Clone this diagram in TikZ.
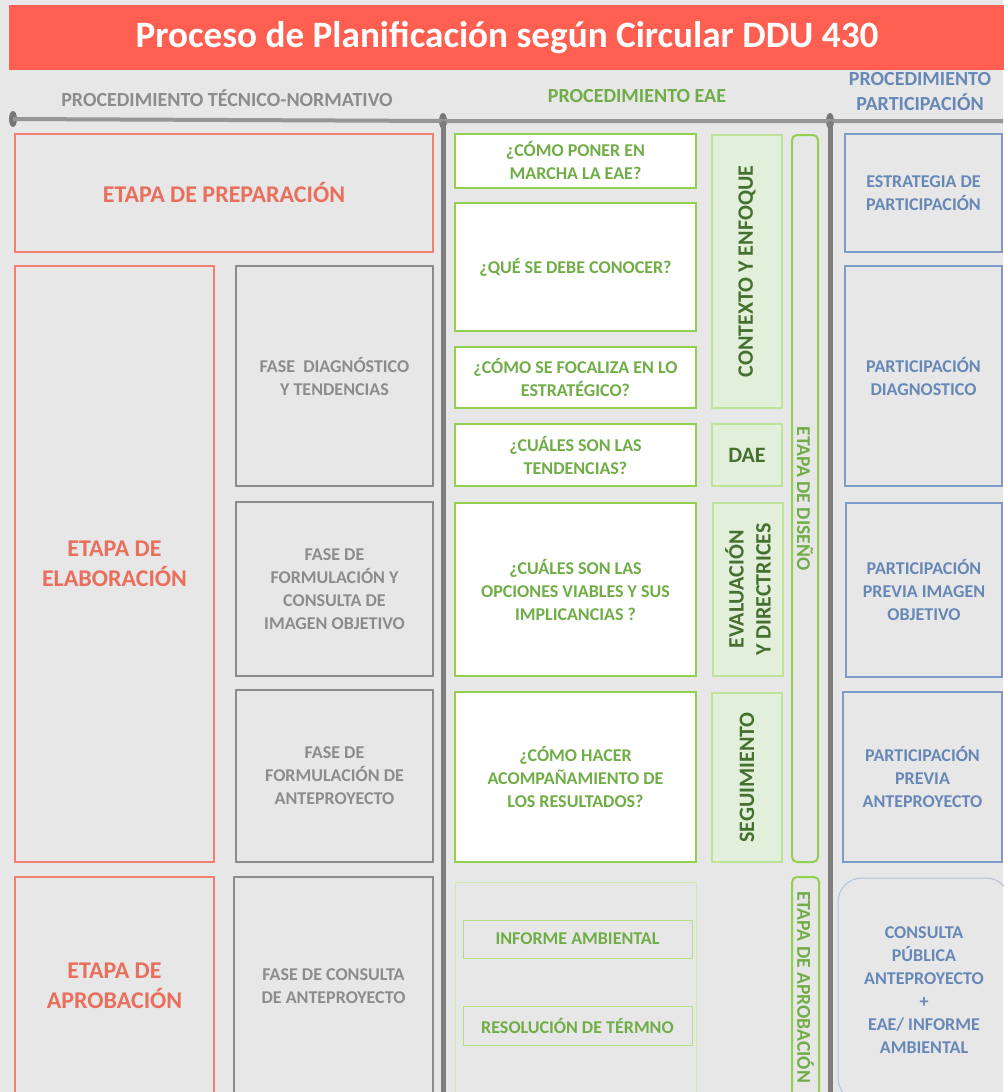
\documentclass[tikz,border=0pt]{standalone}
\usepackage{fontspec}
\setmainfont{Carlito}
\usetikzlibrary{positioning,shapes.geometric}

\definecolor{fondo}{RGB}{231,231,231}
\definecolor{titulo}{RGB}{255,95,80}
\definecolor{salmon}{RGB}{240,128,112}
\definecolor{salmontxt}{RGB}{234,110,92}
\definecolor{gris}{RGB}{140,140,140}
\definecolor{verde}{RGB}{146,208,80}
\definecolor{verdetxt}{RGB}{112,173,71}
\definecolor{verdeclaro}{RGB}{226,239,218}
\definecolor{verdeosc}{RGB}{70,112,48}
\definecolor{azul}{RGB}{124,155,198}
\definecolor{azultxt}{RGB}{103,136,183}
\definecolor{linea}{RGB}{150,150,150}

\begin{document}
\begin{tikzpicture}[%
      x=0.5pt, y=-0.5pt,
      every node/.style={inner sep=0pt, align=center, font=\bfseries},
      sz/.style 2 args={minimum width=#1*0.5pt, minimum height=#2*0.5pt},
      etapa/.style={draw=salmon, line width=0.8pt, text=salmontxt, font=\bfseries\fontsize{12}{15}\selectfont},
      fase/.style={draw=gris, line width=0.8pt, text=gris, font=\bfseries\fontsize{9}{11.5}\selectfont},
      pregunta/.style={draw=verde, fill=white, line width=1pt, text=verdetxt, font=\bfseries\fontsize{9}{11.5}\selectfont},
      tema/.style={draw=verde!60, fill=verdeclaro, line width=0.6pt, text=verdeosc, font=\bfseries\fontsize{11}{13.5}\selectfont},
      stage/.style={draw=verde, rounded corners=2.5pt, line width=1pt, text=verdetxt, font=\bfseries\fontsize{9.8}{12}\selectfont},
      informe/.style={draw=verde!70, line width=0.5pt, text=verdetxt, font=\bfseries\fontsize{9}{11.5}\selectfont},
      particip/.style={draw=azul, line width=0.8pt, text=azultxt, font=\bfseries\fontsize{9}{11.5}\selectfont},
      cabecera/.style={font=\bfseries\fontsize{10}{12.5}\selectfont},
      punto/.style={ellipse, fill=gris!85!black, minimum width=4pt, minimum height=8pt},
      eje/.style={draw=linea, line width=2pt},
      poste/.style={draw=gris!90!black, line width=2.5pt}
    ]
    \useasboundingbox (0,0) rectangle (1003,1092);
    \fill [fondo] (0,0) rectangle (1003,1092);

    % titulo y cabeceras
    \node [fill=titulo, sz={996}{65}, text=white, font=\bfseries\fontsize{18.6}{22}\selectfont] (titulo) at (507,37.5) {Proceso de Planificación según Circular DDU 430};
    \node [cabecera, text=gris] (htec) at (227,98) {PROCEDIMIENTO TÉCNICO-NORMATIVO};
    \node [cabecera, text=verdetxt] (heae) at (637,96) {PROCEDIMIENTO EAE};
    \node [cabecera, text=azultxt] (hpart) at (920,92) {PROCEDIMIENTO\\PARTICIPACIÓN};

    % linea de tiempo
    \node [punto] (p1) at (13,119) {};
    \node [punto] (p2) at (443,121) {};
    \node [punto] (p3) at (830,121) {};
    \coordinate (fin) at (1003,121);
    \coordinate (b2) at (443,1092);
    \coordinate (b3) at (830,1092);
    \path [eje] (p1.center) -- (p2.center) -- (p3.center) -- (fin);
    \path [poste] (p2.center) -- (b2);
    \path [poste] (p3.center) -- (b3);

    % procedimiento tecnico-normativo
    \node [etapa, sz={418}{118}] (prep) at (224,193) {ETAPA DE PREPARACIÓN};
    \node [etapa, sz={199}{596}] (elab) at (114.5,564) {ETAPA DE\\ELABORACIÓN};
    \node [etapa, sz={199}{218}] (aprob) at (114.5,986) {ETAPA DE\\APROBACIÓN};
    \node [fase, sz={197}{220}] (fdiag) at (334.5,376) {FASE\ \ DIAGNÓSTICO\\Y TENDENCIAS};
    \node [fase, sz={197}{174}] (fimg) at (334.5,589) {FASE DE\\FORMULACIÓN Y\\CONSULTA DE\\IMAGEN OBJETIVO};
    \node [fase, sz={197}{172}] (fante) at (334.5,776) {FASE DE\\FORMULACIÓN DE\\ANTEPROYECTO};
    \node [fase, sz={199}{218}] (fcons) at (333.5,986) {FASE DE CONSULTA\\DE ANTEPROYECTO};

    % procedimiento EAE
    \node [pregunta, sz={241}{54}] (q1) at (575.5,161) {¿CÓMO PONER EN\\MARCHA LA EAE?};
    \node [pregunta, sz={241}{128}] (q2) at (575.5,267) {¿QUÉ SE DEBE CONOCER?};
    \node [pregunta, sz={241}{61}] (q3) at (575.5,377.5) {¿CÓMO SE FOCALIZA EN LO\\ESTRATÉGICO?};
    \node [pregunta, sz={241}{62}] (q4) at (575.5,455) {¿CUÁLES SON LAS\\TENDENCIAS?};
    \node [pregunta, sz={241}{173}] (q5) at (575.5,589.5) {¿CUÁLES SON LAS\\OPCIONES VIABLES Y SUS\\IMPLICANCIAS ?};
    \node [pregunta, sz={241}{170}] (q6) at (575.5,777) {¿CÓMO HACER\\ACOMPAÑAMIENTO DE\\LOS RESULTADOS?};
    \node [tema, sz={273}{70}, rotate=90] (ctx) at (747,271.5) {CONTEXTO Y ENFOQUE};
    \node [tema, sz={70}{62}] (dae) at (747,455) {DAE};
    \node [tema, sz={173}{70}, rotate=90] (eval) at (748,589.5) {EVALUACIÓN\\Y DIRECTRICES};
    \node [tema, sz={169}{70}, rotate=90] (seg) at (747,777.5) {SEGUIMIENTO};
    \node [stage, sz={727}{26}, rotate=-90] (diseno) at (805,498.5) {ETAPA DE DISEÑO};
    \node [draw=verde!45, line width=0.4pt, sz={241}{215}] (marco) at (575.5,989.5) {};
    \node [informe, sz={229}{38}] (inf) at (577.5,939) {INFORME AMBIENTAL};
    \node [informe, sz={229}{39}] (res) at (577.5,1025.5) {RESOLUCIÓN DE TÉRMNO};
    \node [stage, sz={220}{27}, rotate=-90] (aprobeae) at (805.5,987) {ETAPA DE APROBACIÓN};

    % procedimiento participacion
    \node [particip, sz={157}{118}] (estr) at (923.5,193) {ESTRATEGIA DE\\PARTICIPACIÓN};
    \node [particip, sz={157}{220}] (pdiag) at (923.5,376) {PARTICIPACIÓN\\DIAGNOSTICO};
    \node [particip, sz={156}{174}] (pimg) at (924,590) {PARTICIPACIÓN\\PREVIA IMAGEN\\OBJETIVO};
    \node [particip, sz={159}{170}] (pante) at (922.5,777) {PARTICIPACIÓN\\PREVIA\\ANTEPROYECTO};
    \node [particip, draw=azul!60, line width=0.5pt, rounded corners=12pt, sz={172}{224}] (cons) at (924,990) {CONSULTA\\PÚBLICA\\ANTEPROYECTO\\+\\EAE/ INFORME\\AMBIENTAL};
  \end{tikzpicture}
\end{document}
